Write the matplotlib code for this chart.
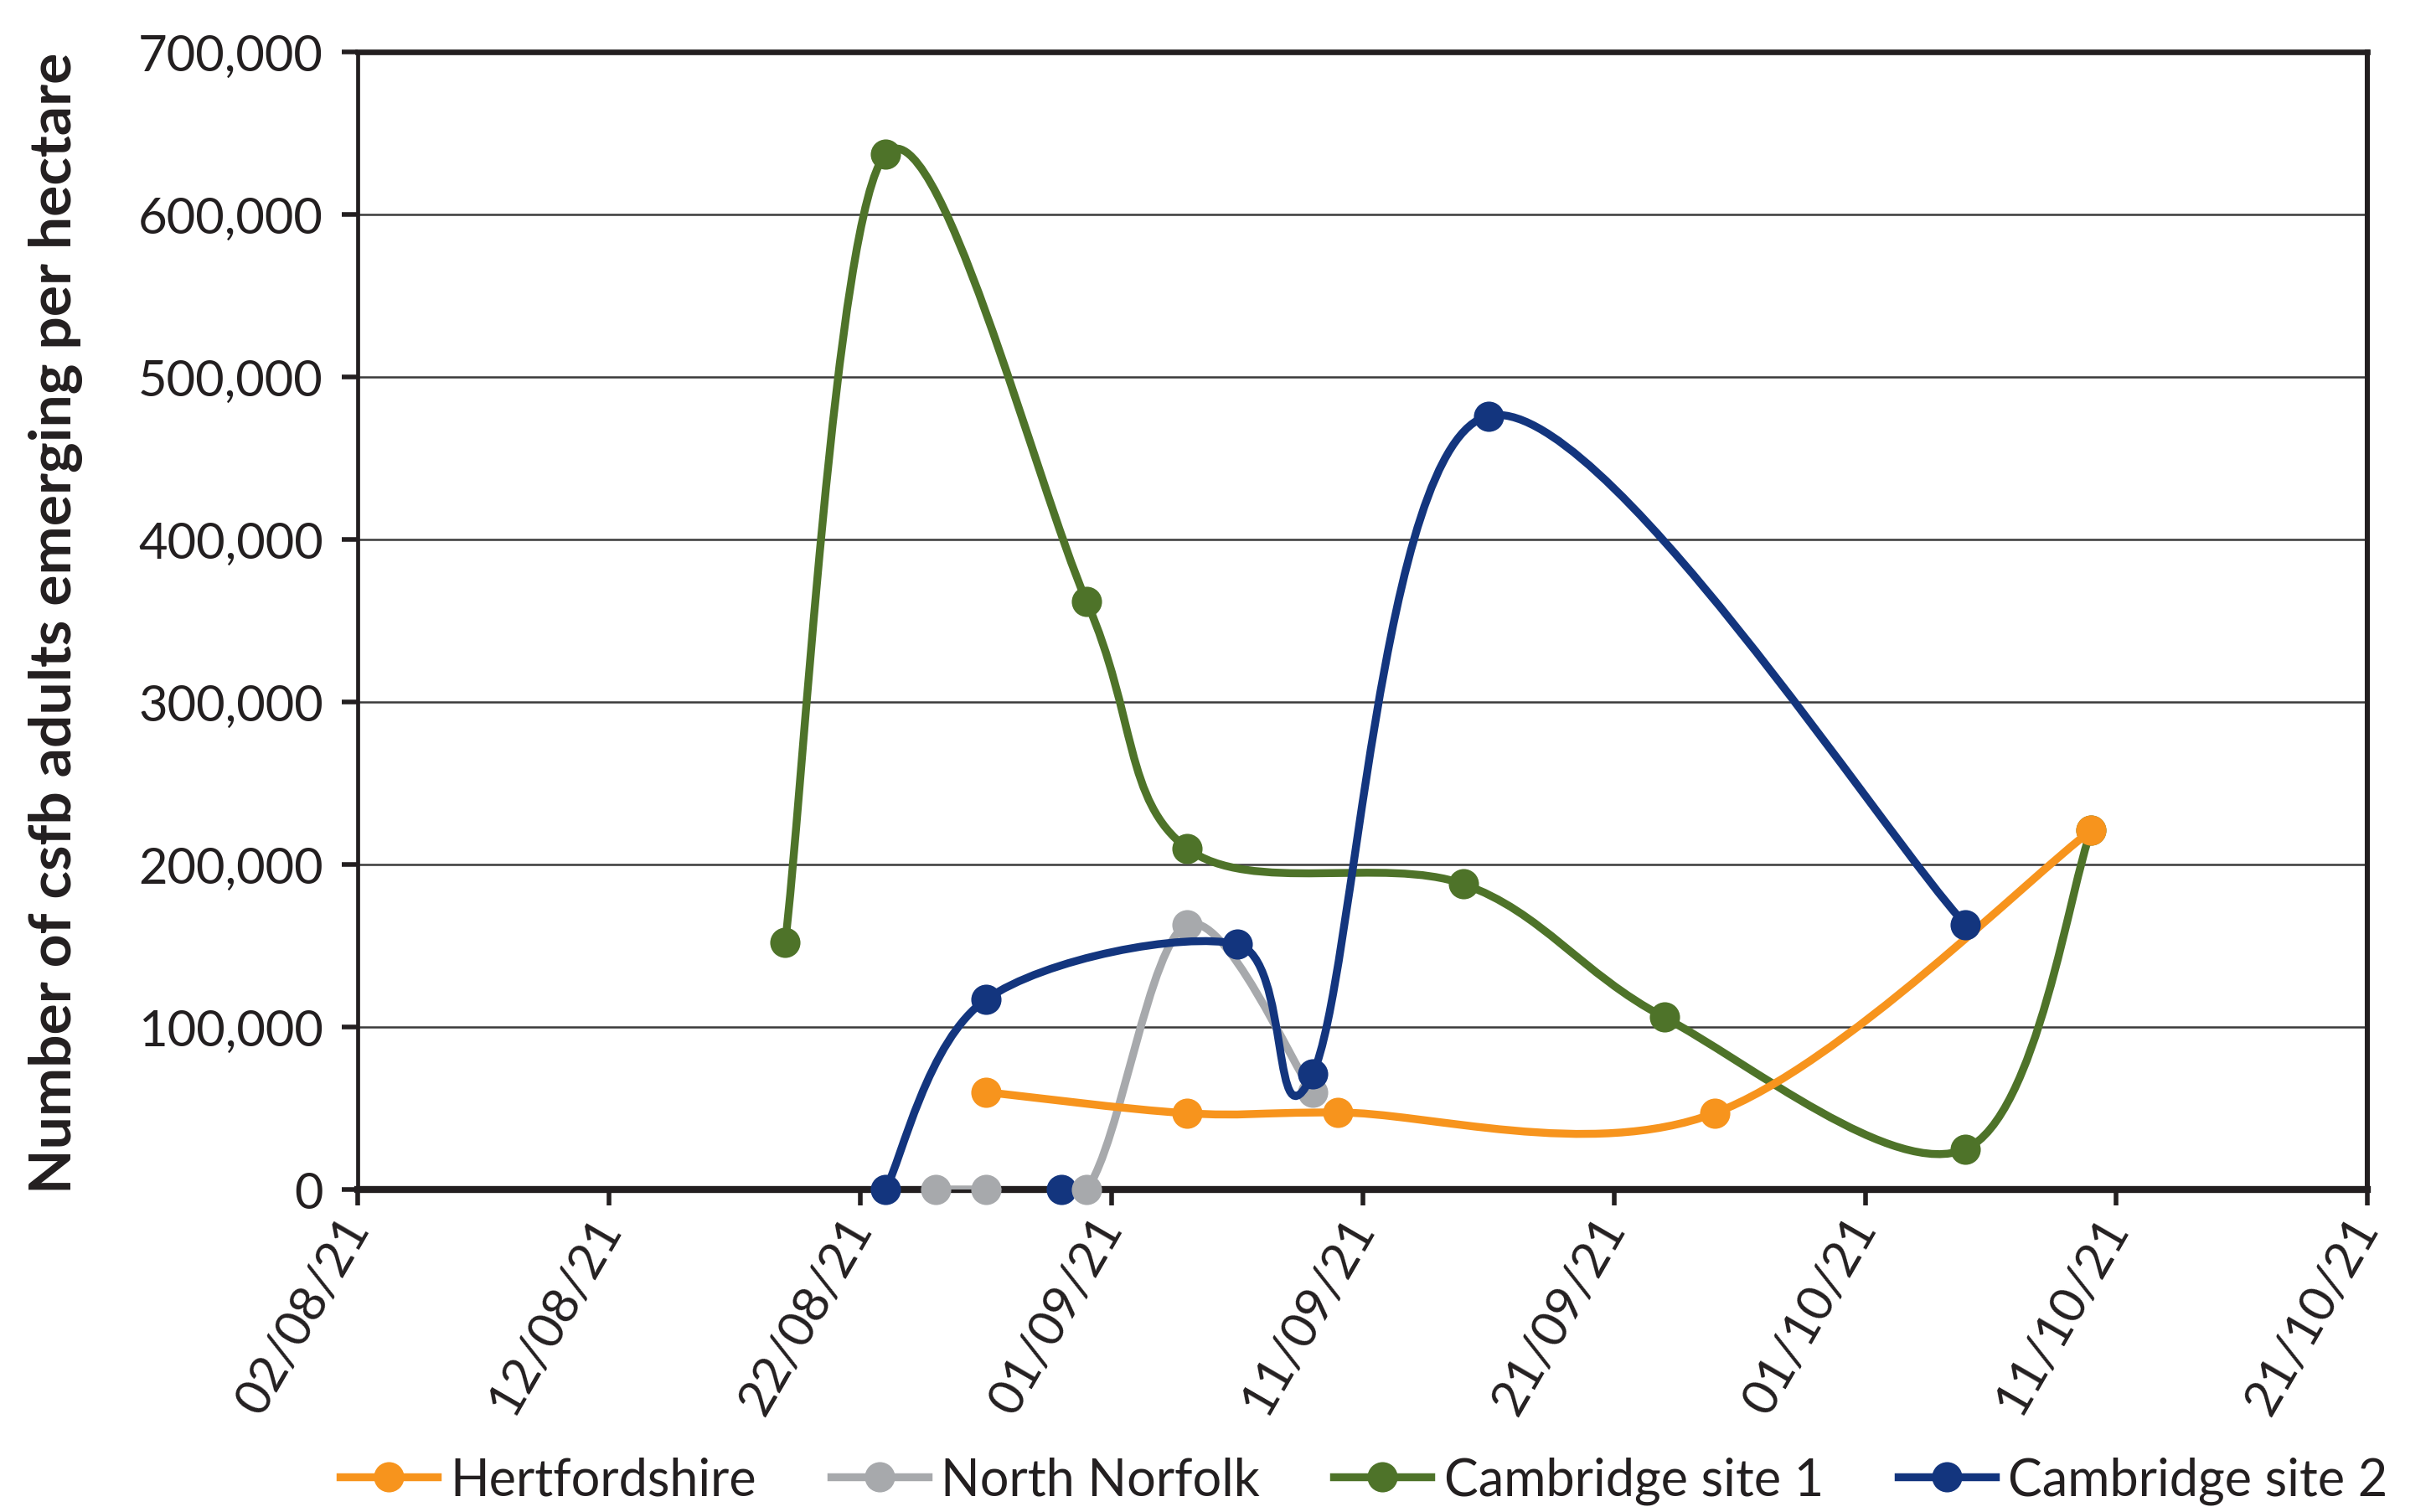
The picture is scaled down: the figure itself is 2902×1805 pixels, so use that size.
import numpy as np
import matplotlib
matplotlib.use("Agg")
import matplotlib.pyplot as plt
import matplotlib.dates as mdates
import matplotlib.ticker as mticker
from matplotlib.path import Path
from matplotlib.patches import PathPatch
from matplotlib.lines import Line2D

plt.rcParams['font.family'] = ['Lato', 'DejaVu Sans']

# ---------------- data ----------------
series_names = ["Hertfordshire", "North Norfolk", "Cambridge site 1", "Cambridge site 2"]
series_colors = ["#F7941D", "#A7A9AC", "#4E7329", "#13357E"]

herts_dates = ["2021-08-27", "2021-09-04", "2021-09-10", "2021-09-25", "2021-10-10"]
herts_vals = [60000, 47000, 47500, 47000, 221000]

norfolk_dates = ["2021-08-25", "2021-08-27", "2021-08-31", "2021-09-04", "2021-09-09"]
norfolk_vals = [0, 0, 0, 163000, 60000]

camb1_dates = ["2021-08-19", "2021-08-23", "2021-08-31", "2021-09-04",
               "2021-09-15", "2021-09-23", "2021-10-05", "2021-10-10"]
camb1_vals = [152000, 637000, 362000, 210000, 188000, 106000, 25000, 221000]

camb2_dates = ["2021-08-23", "2021-08-27", "2021-09-06", "2021-09-09", "2021-09-16", "2021-10-05"]
camb2_vals = [0, 117000, 151000, 71000, 476000, 163000]
camb2_isolated_dates = ["2021-08-30"]
camb2_isolated_vals = [0]

x_tick_dates = ["2021-08-02", "2021-08-12", "2021-08-22", "2021-09-01", "2021-09-11",
                "2021-09-21", "2021-10-01", "2021-10-11", "2021-10-21"]
y_ticks = [0, 100000, 200000, 300000, 400000, 500000, 600000, 700000]
y_label = "Number of csfb adults emerging per hectare"


def to_num(dates):
    return mdates.date2num(np.array(dates, dtype="datetime64[D]"))


def smooth_path(x, y):
    """Excel-like smoothed line (Catmull-Rom as cubic Bezier)."""
    P = np.column_stack([x, y]).astype(float)
    n = len(P)
    verts = [P[0]]
    codes = [Path.MOVETO]
    for i in range(n - 1):
        p0 = P[i - 1] if i > 0 else P[i]
        p1 = P[i]
        p2 = P[i + 1]
        p3 = P[i + 2] if i + 2 < n else P[i + 1]
        c1 = p1 + (p2 - p0) / 6.0
        c2 = p2 - (p3 - p1) / 6.0
        verts += [c1, c2, p2]
        codes += [Path.CURVE4] * 3
    return Path(verts, codes)


# ---------------- figure ----------------
fig = plt.figure(figsize=(14.51, 9.03), dpi=200)
ax = fig.add_axes([0.1473, 0.2131, 0.9739 - 0.1473, 0.9652 - 0.2131])

LW = 3.4
MS = 13

data = [
    (herts_dates, herts_vals),
    (norfolk_dates, norfolk_vals),
    (camb1_dates, camb1_vals),
    (camb2_dates, camb2_vals),
]

zorders = [5, 3, 4, 6]
for (d, v), col, z in zip(data, series_colors, zorders):
    xn = to_num(d)
    patch = PathPatch(smooth_path(xn, v), facecolor="none", edgecolor=col,
                      lw=LW, transform=ax.transData, zorder=z, capstyle="round",
                      joinstyle="round")
    ax.add_patch(patch)
    ax.plot(xn, v, linestyle="none", marker="o", ms=MS, color=col,
            markeredgewidth=0, zorder=z + 0.5, clip_on=False)

ax.plot(to_num(camb2_isolated_dates), camb2_isolated_vals, linestyle="none",
        marker="o", ms=MS, color=series_colors[3], markeredgewidth=0,
        zorder=2.9, clip_on=False)

# axes limits & ticks
xt = to_num(x_tick_dates)
ax.set_xlim(xt[0], xt[-1])
ax.set_ylim(0, 700000)
ax.set_xticks(xt)
ax.xaxis.set_major_formatter(mdates.DateFormatter("%d/%m/%y"))
ax.set_yticks(y_ticks)
ax.yaxis.set_major_formatter(mticker.FuncFormatter(lambda v, p: f"{int(v):,}"))

ax.grid(axis="y", color="#3a3a3a", lw=0.9, zorder=1)
ax.set_axisbelow(True)

spine_col = "#231F20"
for s in ax.spines.values():
    s.set_color(spine_col)
    s.set_zorder(2.5)
ax.spines["left"].set_linewidth(1.7)
ax.spines["top"].set_linewidth(2.4)
ax.spines["right"].set_linewidth(2.2)
ax.spines["bottom"].set_linewidth(3.0)

ax.tick_params(axis="y", direction="out", length=7, width=2.0, color=spine_col,
               labelsize=21.5, pad=8, labelcolor=spine_col)
ax.tick_params(axis="x", direction="out", length=7, width=2.0, color=spine_col,
               labelsize=21.5, pad=6, labelcolor=spine_col)
for lab in ax.get_xticklabels():
    lab.set_rotation(60)
    lab.set_ha("right")
    lab.set_va("center")
    lab.set_rotation_mode("anchor")

ax.set_ylabel(y_label, fontsize=25, fontweight="bold", color=spine_col)
ax.yaxis.set_label_coords(-0.137, 0.4986)

handles = [Line2D([0], [0], color=c, lw=LW, marker="o", ms=MS, markeredgewidth=0)
           for c in series_colors]
fig.legend(handles, series_names, loc="center", bbox_to_anchor=(0.561, 0.021),
           ncol=4, frameon=False, fontsize=22, handlelength=1.9,
           handletextpad=0.25, columnspacing=1.45, labelcolor=spine_col,
           borderpad=0.0)

fig.savefig("out.png", dpi=200)
